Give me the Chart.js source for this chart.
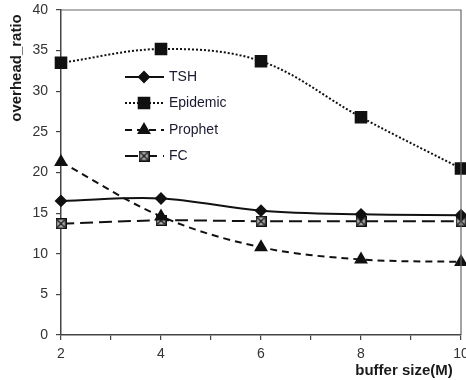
<!DOCTYPE html>
<html>
<head>
<meta charset="utf-8">
<script src="https://cdn.jsdelivr.net/npm/chart.js@4"></script>
<style>
  html, body { margin: 0; padding: 0; background: #fff; }
  #wrap { width: 466px; height: 380px; }
</style>
</head>
<body>
<div id="wrap"><canvas id="myChart" width="466" height="380"></canvas></div>
<script>
// data
const bufferSizes = [2, 4, 6, 8, 10];
const tsh = [16.5, 16.8, 15.3, 14.85, 14.75];
const epidemic = [33.5, 35.2, 33.7, 26.8, 20.5];
const prophet = [21.3, 14.6, 10.8, 9.3, 9.0];
const fc = [13.7, 14.1, 14.0, 14.0, 14.0];
const seriesNames = ['TSH', 'Epidemic', 'Prophet', 'FC'];
const yTicks = [0, 5, 10, 15, 20, 25, 30, 35, 40];

const font = "'Liberation Sans', Arial, sans-serif";

// square with a cross for FC
function crossBox() {
    const c = document.createElement('canvas');
    c.width = 11; c.height = 11;
    const g = c.getContext('2d');
    g.fillStyle = '#111';
    g.fillRect(0, 0, 11, 11);
    g.fillStyle = '#b8b8b8';
    g.fillRect(1.5, 1.5, 8, 8);
    g.strokeStyle = '#111';
    g.lineWidth = 1.3;
    g.beginPath();
    g.moveTo(2, 2); g.lineTo(9, 9);
    g.moveTo(9, 2); g.lineTo(2, 9);
    g.stroke();
    return c;
}
const fcMarker = crossBox();

function pts(vals) {
    return bufferSizes.map((x, i) => ({x: x, y: vals[i]}));
}

const datasets = [
    {label: seriesNames[0], data: pts(tsh), borderDash: [], pointStyle: 'rectRot', pointRadius: 5},
    {label: seriesNames[1], data: pts(epidemic), borderDash: [2, 2], pointStyle: 'rect', pointRadius: 7.5},
    {label: seriesNames[2], data: pts(prophet), borderDash: [7, 5], pointStyle: 'triangle', pointRadius: 6},
    {label: seriesNames[3], data: pts(fc), borderDash: [13, 6], pointStyle: fcMarker, pointRadius: 6}
].map(d => Object.assign({
    borderColor: '#111',
    backgroundColor: '#111',
    pointBorderColor: '#111',
    pointBackgroundColor: '#111',
    borderWidth: 2,
    tension: 0.35,
    fill: false,
    clip: 10
}, d));

// frame, axis titles and the inside legend
const extras = {
    id: 'extras',
    afterDraw(chart) {
        const ctx = chart.ctx;
        const a = chart.chartArea;
        ctx.save();
        // top and right border
        ctx.strokeStyle = '#666';
        ctx.lineWidth = 1.2;
        ctx.beginPath();
        ctx.moveTo(a.left, a.top);
        ctx.lineTo(a.right, a.top);
        ctx.lineTo(a.right, a.bottom);
        ctx.stroke();

        // axis titles
        ctx.fillStyle = '#1a1a1a';
        ctx.font = 'bold 15px ' + font;
        ctx.textAlign = 'center';
        ctx.textBaseline = 'middle';
        ctx.fillText('buffer size(M)', 404, 371);
        ctx.translate(17, 68);
        ctx.rotate(-Math.PI / 2);
        ctx.fillText('overhead_ratio', 0, 0);
        ctx.restore();

        // legend
        ctx.save();
        const rows = [77, 103, 130, 156];
        chart.data.datasets.forEach((ds, i) => {
            const y = rows[i];
            ctx.strokeStyle = ds.borderColor;
            ctx.fillStyle = ds.pointBackgroundColor;
            ctx.lineWidth = ds.borderWidth;
            ctx.setLineDash(ds.borderDash);
            ctx.beginPath();
            ctx.moveTo(125, y);
            ctx.lineTo(164, y);
            ctx.stroke();
            ctx.setLineDash([]);
            Chart.helpers.drawPoint(ctx, {
                pointStyle: ds.pointStyle,
                radius: ds.pointRadius,
                rotation: 0,
                borderWidth: 1
            }, 144, y);
            ctx.fillStyle = '#1a1a30';
            ctx.font = '14px ' + font;
            ctx.textAlign = 'left';
            ctx.textBaseline = 'middle';
            ctx.fillText(ds.label, 169, y);
        });
        ctx.restore();
    }
};

const chart = new Chart(document.getElementById('myChart'), {
    type: 'line',
    data: {datasets: datasets},
    plugins: [extras],
    options: {
        responsive: false,
        animation: false,
        layout: {autoPadding: false, padding: {top: 10, right: 5, left: 0, bottom: 0}},
        plugins: {legend: {display: false}, tooltip: {enabled: false}},
        scales: {
            x: {
                type: 'linear',
                min: 2,
                max: 10,
                afterFit(scale) {
                    scale.height = 45;
                    scale.paddingRight = 0;
                    scale.paddingLeft = 0;
                },
                ticks: {
                    stepSize: 1,
                    autoSkip: false,
                    maxRotation: 0,
                    padding: 6,
                    color: '#333',
                    font: {family: font, size: 14},
                    callback: v => (v % 2 === 0 ? v : '')
                },
                grid: {drawOnChartArea: false, tickLength: 5, color: '#444', lineWidth: 1.2},
                border: {color: '#444', width: 1.5}
            },
            y: {
                min: 0,
                max: 40,
                afterFit(scale) {
                    scale.width = 61;
                    scale.paddingTop = 0;
                    scale.paddingBottom = 0;
                },
                afterBuildTicks(scale) {
                    scale.ticks = yTicks.map(v => ({value: v}));
                },
                ticks: {
                    padding: 8,
                    color: '#333',
                    font: {family: font, size: 14}
                },
                grid: {drawOnChartArea: false, tickLength: 5, color: '#444', lineWidth: 1.2},
                border: {color: '#444', width: 1.5}
            }
        }
    }
});
</script>
</body>
</html>
